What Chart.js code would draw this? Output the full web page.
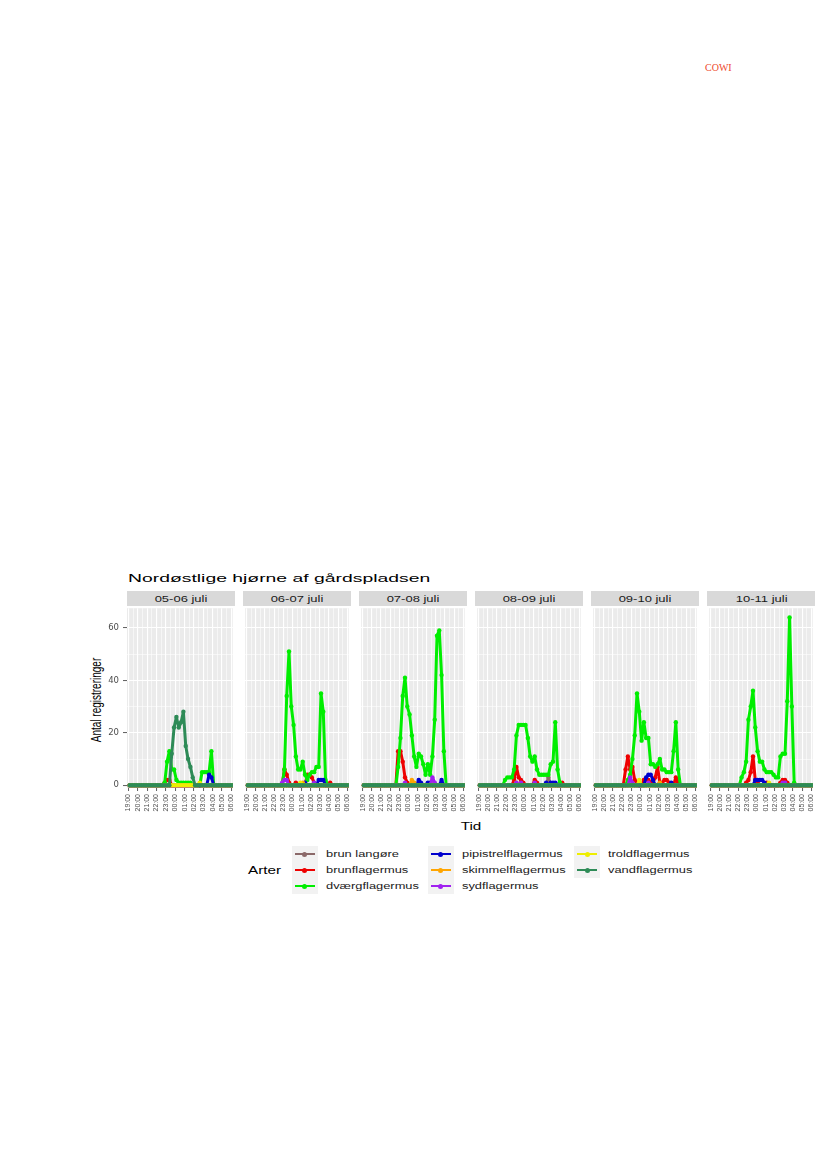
<!DOCTYPE html>
<html lang="da">
<head>
<meta charset="utf-8">
<title>Nordøstlige hjørne af gårdspladsen</title>
<script src="https://cdn.jsdelivr.net/npm/chart.js@4.4.1/dist/chart.umd.min.js"></script>
<style>
  body { margin: 0; width: 827px; height: 1169px; position: relative; overflow: hidden; background: #fff;
         font-family: 'Liberation Sans', Arial, sans-serif; color: #000; }
  .abs { position: absolute; white-space: nowrap; }
  .panel { position: absolute; top: 606px; }
  .strip { position: absolute; top: 591px; height: 15px; width: 108px; background: #d9d9d9;
           display: flex; align-items: center; justify-content: center; }
  .strip span { display: inline-block; font-size: 8.4px; color: #1a1a1a; transform: scaleX(1.55); }
  .key { position: absolute; width: 26px; height: 16px; background: #f2f2f2; }
  .key i { position: absolute; left: 3px; right: 3px; top: 6.8px; height: 2.6px; }
  .key b { position: absolute; left: 10.5px; top: 5.6px; width: 5px; height: 5px; border-radius: 50%; }
  .lbl { position: absolute; font-size: 9.2px; color: #1a1a1a; transform: scaleX(1.4); transform-origin: left center; line-height: 16px; }
</style>
</head>
<body>

<div class="abs" style="left:705px; top:62px; font-family:'Liberation Serif', serif; font-size:10px; color:#ee4a2c;">COWI</div>

<div class="abs" style="left:127.7px; top:573px; font-size:11.8px; line-height:11.8px; transform:scaleX(1.64); transform-origin:left top;">Nordøstlige hjørne af gårdspladsen</div>

<div class="abs" style="left:97px; top:700px; font-size:10px; line-height:10px; transform:translate(-50%,-50%) rotate(-90deg) scaleY(1.45); color:#000;">Antal registreringer</div>

<div class="abs" style="left:470.8px; top:826px; font-size:10.5px; line-height:10.5px; transform:translate(-50%,-50%) scaleX(1.45);">Tid</div>

<div class="abs" style="left:248.3px; top:870px; font-size:10.5px; line-height:10.5px; transform:translateY(-50%) scaleX(1.45); transform-origin:left center;">Arter</div>

<div id="legend"></div>

<script>
// ---- data: registreringer pr. kvarter, 19:00 - 06:00 ----
const tider = ['19:00','19:15','19:30','19:45','20:00','20:15','20:30','20:45','21:00','21:15','21:30','21:45',
               '22:00','22:15','22:30','22:45','23:00','23:15','23:30','23:45','00:00','00:15','00:30','00:45',
               '01:00','01:15','01:30','01:45','02:00','02:15','02:30','02:45','03:00','03:15','03:30','03:45',
               '04:00','04:15','04:30','04:45','05:00','05:15','05:30','05:45','06:00'];
const tidTicks = ['19:00','20:00','21:00','22:00','23:00','00:00','01:00','02:00','03:00','04:00','05:00','06:00'];
const yTicks = [0, 20, 40, 60];
const naetter = ['05-06 juli','06-07 juli','07-08 juli','08-09 juli','09-10 juli','10-11 juli'];
const arter = ['brun langøre','brunflagermus','dværgflagermus','pipistrelflagermus',
               'skimmelflagermus','sydflagermus','troldflagermus','vandflagermus'];
const farver = ['#8b6969','#ee0000','#00ee00','#0000cd','#ffa500','#a020f0','#eeee00','#2e8b57'];

const ingen = [0,0,0,0, 0,0,0,0, 0,0,0,0, 0,0,0,0, 0,0,0,0, 0,0,0,0, 0,0,0,0, 0,0,0,0, 0,0,0,0, 0,0,0,0, 0,0,0,0, 0];

// 05-06 juli
const vand_0506   = [0,0,0,0, 0,0,0,0, 0,0,0,0, 0,0,0,0, 0,0,12,22, 26,22,24,28, 15,10,7,3, 0,0,0,0, 0,0,0,0, 0,0,0,0, 0,0,0,0, 0];
const dvaerg_0506 = [0,0,0,0, 0,0,0,0, 0,0,0,0, 0,0,0,1, 9,13,6,6, 2,1,1,1, 1,1,1,0, 0,0,0,5, 5,5,5,13, 0,0,0,0, 0,0,0,0, 0];
const brun_0506   = [0,0,0,0, 0,0,0,0, 0,0,0,0, 0,0,0,1, 2,2,0,0, 0,0,0,0, 0,0,0,0, 0,0,0,0, 0,0,0,0, 0,0,0,0, 0,0,0,0, 0];
const pip_0506    = [0,0,0,0, 0,0,0,0, 0,0,0,0, 0,0,0,0, 0,0,0,0, 0,0,0,0, 0,0,0,0, 0,0,0,0, 0,0,4,3, 0,0,0,0, 0,0,0,0, 0];
const trold_0506  = [0,0,0,0, 0,0,0,0, 0,0,0,0, 0,0,0,0, 0,0,0,0, 0,0,0,0, 0,0,0,0, 0,0,1,0, 0,0,0,0, 0,0,0,0, 0,0,0,0, 0];

// 06-07 juli
const dvaerg_0607 = [0,0,0,0, 0,0,0,0, 0,0,0,0, 0,0,0,0, 6,34,51,30, 23,11,6,6, 9,4,2,4, 5,5,7,7, 35,28,2,0, 0,0,0,0, 0,0,0,0, 0];
const brun_0607   = [0,0,0,0, 0,0,0,0, 0,0,0,0, 0,0,0,0, 6,4,1,0, 0,1,0,0, 0,0,4,4, 3,1,0,0, 0,0,0,0, 1,0,0,0, 0,0,0,0, 0];
const pip_0607    = [0,0,0,0, 0,0,0,0, 0,0,0,0, 0,0,0,0, 0,0,0,0, 0,0,0,0, 0,1,0,0, 0,0,0,2, 2,2,0,0, 0,0,0,0, 0,0,0,0, 0];
const skim_0607   = [0,0,0,0, 0,0,0,0, 0,0,0,0, 0,0,0,0, 0,0,0,0, 0,0,0,0, 1,0,0,0, 0,0,0,0, 0,0,0,0, 0,0,0,0, 0,0,0,0, 0];
const syd_0607    = [0,0,0,0, 0,0,0,0, 0,0,0,0, 0,0,0,1, 2,2,0,0, 0,0,0,0, 0,0,0,0, 0,1,0,0, 0,0,0,0, 0,0,0,0, 0,0,0,0, 0];
const trold_0607  = [0,0,0,0, 0,0,0,0, 0,0,0,0, 0,0,0,0, 0,0,0,0, 0,0,0,1, 0,0,0,0, 0,0,0,0, 0,0,0,0, 0,0,0,0, 0,0,0,0, 0];

// 07-08 juli
const dvaerg_0708 = [0,0,0,0, 0,0,0,0, 0,0,0,0, 0,0,0,7, 18,34,41,30, 27,19,11,7, 12,11,8,4, 8,4,11,25, 57,59,42,13, 0,0,0,0, 0,0,0,0, 0];
const brun_0708   = [0,0,0,0, 0,0,0,0, 0,0,0,0, 0,0,0,13, 13,9,3,1, 0,0,0,0, 0,0,0,0, 0,0,0,0, 0,0,0,0, 0,0,0,0, 0,0,0,0, 0];
const pip_0708    = [0,0,0,0, 0,0,0,0, 0,0,0,0, 0,0,0,0, 0,0,0,0, 0,0,0,0, 2,1,0,0, 1,1,0,0, 0,0,2,0, 0,0,0,0, 0,0,0,0, 0];
const skim_0708   = [0,0,0,0, 0,0,0,0, 0,0,0,0, 0,0,0,0, 0,0,0,0, 0,2,1,0, 0,0,0,0, 0,0,2,0, 0,0,0,0, 0,0,0,0, 0,0,0,0, 0];
const syd_0708    = [0,0,0,0, 0,0,0,0, 0,0,0,0, 0,0,0,0, 0,0,1,0, 0,0,0,0, 0,0,0,0, 0,0,3,1, 0,0,0,0, 0,0,0,0, 0,0,0,0, 0];

// 08-09 juli
const dvaerg_0809 = [0,0,0,0, 0,0,0,0, 0,0,0,2, 3,3,3,6, 19,23,23,23, 23,18,11,9, 11,6,4,4, 4,4,4,8, 9,24,6,1, 0,0,0,0, 0,0,0,0, 0];
const brunl_0809  = [0,0,0,0, 0,0,0,0, 0,0,0,0, 0,0,0,0, 0,0,0,0, 0,0,0,0, 0,0,0,0, 0,0,3,0, 0,0,0,0, 0,0,0,0, 0,0,0,0, 0];
const brun_0809   = [0,0,0,0, 0,0,0,0, 0,0,0,0, 0,0,0,2, 7,3,2,1, 0,0,0,0, 2,1,0,0, 0,0,0,0, 0,0,0,0, 1,0,0,0, 0,0,0,0, 0];
const pip_0809    = [0,0,0,0, 0,0,0,0, 0,0,0,0, 0,0,0,0, 0,0,0,0, 0,0,0,0, 0,0,0,0, 0,1,0,1, 1,1,0,0, 0,0,0,0, 0,0,0,0, 0];
const skim_0809   = [0,0,0,0, 0,0,0,0, 0,0,0,0, 0,0,0,0, 1,0,0,0, 0,0,0,0, 0,0,0,0, 0,0,0,0, 0,0,0,0, 0,0,0,0, 0,0,0,0, 0];
const syd_0809    = [0,0,0,0, 0,0,0,0, 0,0,0,0, 0,0,0,0, 1,0,1,0, 0,0,0,0, 1,0,0,0, 0,0,0,0, 0,0,0,0, 0,0,0,0, 0,0,0,0, 0];

// 09-10 juli
const dvaerg_0910 = [0,0,0,0, 0,0,0,0, 0,0,0,0, 0,0,2,4, 10,19,35,28, 17,24,18,18, 8,8,7,8, 10,6,6,5, 5,5,13,24, 6,0,0,0, 0,0,0,0, 0];
const brun_0910   = [0,0,0,0, 0,0,0,0, 0,0,0,0, 0,6,11,6, 7,2,1,0, 0,2,2,2, 1,1,3,7, 1,1,2,2, 1,0,0,3, 1,0,0,0, 0,0,0,0, 0];
const pip_0910    = [0,0,0,0, 0,0,0,0, 0,0,0,0, 0,0,0,0, 0,0,0,0, 0,0,3,4, 4,2,0,0, 0,0,0,0, 0,1,0,0, 0,0,0,0, 0,0,0,0, 0];
const skim_0910   = [0,0,0,0, 0,0,0,0, 0,0,0,0, 0,0,0,0, 0,0,0,0, 0,0,0,0, 0,0,0,0, 1,0,0,0, 0,0,0,0, 0,0,0,0, 0,0,0,0, 0];
const syd_0910    = [0,0,0,0, 0,0,0,0, 0,0,0,0, 0,0,0,3, 1,0,0,0, 0,0,0,1, 0,0,0,0, 0,0,0,0, 0,0,0,0, 0,0,0,0, 0,0,0,0, 0];
const trold_0910  = [0,0,0,0, 0,0,0,0, 0,0,0,0, 0,0,0,0, 0,0,0,2, 0,0,0,0, 0,0,0,0, 0,0,0,0, 0,0,0,0, 0,0,0,0, 0,0,0,0, 0];

// 10-11 juli
const dvaerg_1011 = [0,0,0,0, 0,0,0,0, 0,0,0,0, 0,3,5,9, 25,30,36,22, 13,9,9,6, 5,5,5,4, 3,3,11,12, 12,32,64,30, 1,0,0,0, 0,0,0,0, 0];
const brun_1011   = [0,0,0,0, 0,0,0,0, 0,0,0,0, 0,0,0,1, 2,5,11,2, 1,0,0,0, 1,0,0,0, 0,0,1,2, 2,1,0,0, 0,0,0,0, 0,0,0,0, 0];
const pip_1011    = [0,0,0,0, 0,0,0,0, 0,0,0,0, 0,0,0,0, 0,0,0,2, 2,2,2,1, 0,0,0,0, 0,0,0,0, 0,0,0,0, 0,0,0,0, 0,0,0,0, 0];
const syd_1011    = [0,0,0,0, 0,0,0,0, 0,0,0,0, 0,0,0,0, 0,0,0,0, 0,0,0,0, 0,0,0,0, 0,0,0,1, 1,0,0,0, 0,0,0,0, 0,0,0,0, 0];
const trold_1011  = [0,0,0,0, 0,0,0,0, 0,0,0,0, 0,0,0,0, 0,0,0,0, 0,0,0,0, 0,1,0,0, 0,0,0,0, 0,0,0,0, 0,0,0,0, 0,0,0,0, 0];

// en række pr. art, en kolonne pr. nat
const brunLangore   = [ingen, ingen, ingen, brunl_0809, ingen, ingen];
const brunflagermus = [brun_0506, brun_0607, brun_0708, brun_0809, brun_0910, brun_1011];
const dvaergflagermus = [dvaerg_0506, dvaerg_0607, dvaerg_0708, dvaerg_0809, dvaerg_0910, dvaerg_1011];
const pipistrelflagermus = [pip_0506, pip_0607, pip_0708, pip_0809, pip_0910, pip_1011];
const skimmelflagermus = [ingen, skim_0607, skim_0708, skim_0809, skim_0910, ingen];
const sydflagermus  = [ingen, syd_0607, syd_0708, syd_0809, syd_0910, syd_1011];
const troldflagermus = [trold_0506, trold_0607, ingen, ingen, trold_0910, trold_1011];
const vandflagermus = [vand_0506, ingen, ingen, ingen, ingen, ingen];

const serier = [brunLangore, brunflagermus, dvaergflagermus, pipistrelflagermus,
                skimmelflagermus, sydflagermus, troldflagermus, vandflagermus];

// minutter efter 19:00
function minutter(t) {
    const [h, m] = t.split(':').map(Number);
    return ((h - 19 + 24) % 24) * 60 + m;
}
// hvert kvarter vises midt i sit interval
const KVARTER_MIDT = 7.5;

// grå panelbaggrund som i ggplot
const ggBaggrund = {
    id: 'ggBaggrund',
    beforeDraw(chart) {
        const { ctx, chartArea: a } = chart;
        ctx.save();
        ctx.fillStyle = '#ebebeb';
        ctx.fillRect(a.left, a.top, a.right - a.left, a.bottom - a.top);
        ctx.restore();
    }
};

// hele timer = store gitterlinjer, halve timer = små
const xMajor = tidTicks.map(minutter).map((m, n) => n === 0 ? 0 : (m === 0 ? 660 : m));
const xGrid = [];
xMajor.forEach((m, n) => { xGrid.push(m); if (n < xMajor.length - 1) xGrid.push(m + 30); });
const yGrid = [];
yTicks.forEach((v, n) => { yGrid.push(v); if (n < yTicks.length - 1) yGrid.push(v + 10); });

const PANEL_W = 108, PANEL_H = 182, AXIS_H = 30, Y_AXIS_W = 24;

naetter.forEach((nat, i) => {
    const left = 126.7 + i * 116.1;

    const strip = document.createElement('div');
    strip.className = 'strip';
    strip.style.left = left + 'px';
    strip.innerHTML = `<span>${nat}</span>`;
    document.body.appendChild(strip);

    const yw = i === 0 ? Y_AXIS_W : 0;
    const box = document.createElement('div');
    box.className = 'panel';
    box.style.left = (left - yw) + 'px';
    const canvas = document.createElement('canvas');
    canvas.width = PANEL_W + yw;
    canvas.height = PANEL_H + AXIS_H;
    box.appendChild(canvas);
    document.body.appendChild(box);

    const datasets = arter.map((art, k) => ({
        label: art,
        data: tider.map((t, j) => ({ x: minutter(t) + KVARTER_MIDT, y: serier[k][i][j] })),
        borderColor: farver[k],
        backgroundColor: farver[k],
        pointBackgroundColor: farver[k],
        borderWidth: 3,
        pointRadius: 2.2,
        pointBorderWidth: 0,
        pointHoverRadius: 0,
        borderJoinStyle: 'round',
        borderCapStyle: 'round',
        tension: 0,
        order: arter.length - k   // sidste art tegnes øverst
    }));

    new Chart(canvas, {
        type: 'line',
        data: { datasets },
        plugins: [ggBaggrund],
        options: {
            responsive: false,
            animation: false,
            events: [],
            layout: { padding: 0 },
            plugins: { legend: { display: false }, tooltip: { enabled: false } },
            scales: {
                x: {
                    type: 'linear', min: -10, max: 670,
                    afterBuildTicks: s => { s.ticks = xGrid.map(v => ({ value: v })); },
                    afterFit: s => { s.height = AXIS_H; s.paddingLeft = 0; s.paddingRight = 0; },
                    border: { display: false },
                    grid: {
                        color: '#ffffff',
                        lineWidth: c => (c.tick && c.tick.value % 60 === 0) ? 1.1 : 0.55,
                        tickLength: 3,
                        tickWidth: 0.8,
                        tickColor: c => (c.tick && c.tick.value % 60 === 0) ? '#333333' : 'rgba(0,0,0,0)'
                    },
                    ticks: {
                        autoSkip: false, minRotation: 90, maxRotation: 90, padding: 3,
                        color: '#4d4d4d', font: { family: 'Liberation Sans', size: 7 },
                        callback: v => v % 60 === 0 ? tidTicks[v / 60] : ''
                    }
                },
                y: {
                    min: -1.05, max: 67.5,
                    afterBuildTicks: s => { s.ticks = yGrid.map(v => ({ value: v })); },
                    afterFit: s => { s.width = yw; s.paddingTop = 0; s.paddingBottom = 0; },
                    border: { display: false },
                    grid: {
                        color: '#ffffff',
                        lineWidth: c => (c.tick && c.tick.value % 20 === 0) ? 1.1 : 0.55,
                        drawTicks: i === 0,
                        tickLength: 4,
                        tickWidth: 0.8,
                        tickColor: c => (c.tick && c.tick.value % 20 === 0) ? '#333333' : 'rgba(0,0,0,0)'
                    },
                    ticks: {
                        display: i === 0, padding: 4,
                        color: '#4d4d4d', font: { family: 'DejaVu Sans', size: 8.5 },
                        callback: v => v % 20 === 0 ? v : ''
                    }
                }
            }
        }
    });
});

// ---- forklaring (3 kolonner, fyldes kolonnevis) ----
const legend = document.getElementById('legend');
const keyLeft = [291.7, 427.7, 574.3];
const txtLeft = [326, 461.7, 608.3];
arter.forEach((art, k) => {
    const col = Math.floor(k / 3), row = k % 3;
    const top = 846 + row * 16;
    const key = document.createElement('div');
    key.className = 'key';
    key.style.left = keyLeft[col] + 'px';
    key.style.top = top + 'px';
    key.innerHTML = `<i style="background:${farver[k]}"></i><b style="background:${farver[k]}"></b>`;
    legend.appendChild(key);
    const lbl = document.createElement('div');
    lbl.className = 'lbl';
    lbl.style.left = txtLeft[col] + 'px';
    lbl.style.top = top + 'px';
    lbl.textContent = art;
    legend.appendChild(lbl);
});
</script>
</body>
</html>
